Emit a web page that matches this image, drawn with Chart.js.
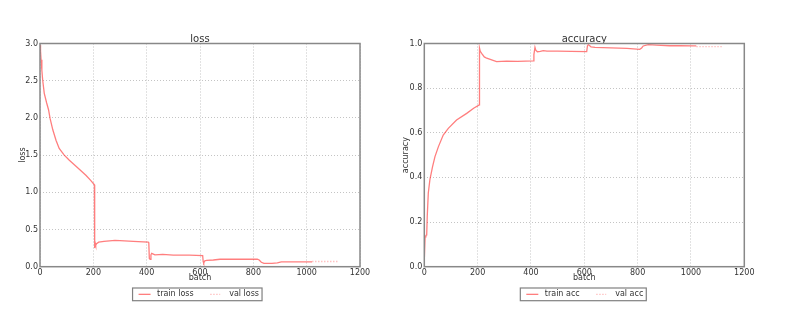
<!DOCTYPE html>
<html>
<head>
<meta charset="utf-8">
<script src="https://cdn.jsdelivr.net/npm/chart.js@4.4.1/dist/chart.umd.min.js"></script>
<style>
  html, body { margin: 0; padding: 0; background: #ffffff; }
  body { width: 800px; height: 321px; position: relative; overflow: hidden; }
  .box { position: absolute; top: 0; width: 400px; height: 321px; }
  #c1box { left: 0; }
  #c2box { left: 400px; }
</style>
</head>
<body>
<div class="box" id="c1box"><canvas id="c1" width="400" height="321"></canvas></div>
<div class="box" id="c2box"><canvas id="c2" width="400" height="321"></canvas></div>
<script>
// ---- data ----
const xTicks = [0, 200, 400, 600, 800, 1000, 1200];
const lossTicks = [0, 0.5, 1.0, 1.5, 2.0, 2.5, 3.0];
const accTicks = [0, 0.2, 0.4, 0.6, 0.8, 1.0];

const lossBatch = [0, 2, 4, 7, 10, 16, 25, 32, 38, 48, 60, 72, 91, 110, 135, 172, 190, 204,
  205, 207, 209, 212, 220, 240, 281, 300, 350, 406, 408,
  410, 413, 416, 419, 425, 431, 460, 500, 560, 610,
  612, 614, 618, 625, 650, 675, 720, 780, 815, 822, 830, 840, 870, 890, 905, 940, 980, 1020];
const lossValue = [2.98, 2.9, 2.78, 2.64, 2.51, 2.33, 2.20, 2.11, 1.99, 1.84, 1.70, 1.59, 1.50, 1.43, 1.35, 1.23, 1.16, 1.10,
  0.25, 0.32, 0.29, 0.31, 0.33, 0.34, 0.355, 0.35, 0.34, 0.33, 0.32,
  0.11, 0.10, 0.16, 0.18, 0.17, 0.16, 0.165, 0.155, 0.155, 0.15,
  0.07, 0.05, 0.08, 0.085, 0.09, 0.10, 0.10, 0.10, 0.10, 0.09, 0.06, 0.045, 0.045, 0.05, 0.065, 0.065, 0.065, 0.065];
const valLossBatch = [1020, 1060, 1120];
const valLossValue = [0.07, 0.07, 0.07];

const accBatch = [0, 3, 6, 9, 11, 15, 21, 31, 40, 53, 71, 90, 121, 159, 185, 206,
  207, 210, 215, 225, 234, 250, 271, 290, 309, 350, 409,
  411, 415, 418, 424, 435, 446, 460, 500, 550, 609,
  612, 615, 625, 640, 700, 760, 808, 815, 821, 840, 871, 920, 960, 1009, 1020];
const accValue = [0.03, 0.134, 0.14, 0.142, 0.224, 0.33, 0.39, 0.448, 0.493, 0.538, 0.59, 0.62, 0.657, 0.687, 0.71, 0.725,
  0.98, 0.965, 0.956, 0.94, 0.934, 0.928, 0.919, 0.92, 0.921, 0.92, 0.922,
  0.95, 0.983, 0.97, 0.963, 0.965, 0.968, 0.966, 0.966, 0.965, 0.964,
  0.99, 0.995, 0.985, 0.983, 0.98, 0.978, 0.974, 0.98, 0.989, 0.995, 0.993, 0.99, 0.99, 0.989, 0.989];
const valAccBatch = [1020, 1060, 1120];
const valAccValue = [0.986, 0.986, 0.986];

// ---- styling ----
const FONT = "'DejaVu Sans', sans-serif";
const TEXT = '#333333';
const TRAIN_COLOR = 'rgba(255, 40, 40, 0.6)';
const VAL_COLOR = 'rgba(255, 120, 120, 0.45)';

function pts(xs, ys) { return xs.map((x, i) => ({ x: x, y: ys[i] })); }

function framePlugin() {
  return {
    id: 'frame',
    afterDraw(chart) {
      const a = chart.chartArea, ctx = chart.ctx;
      ctx.save();
      ctx.strokeStyle = '#888888';
      ctx.lineWidth = 1.5;
      ctx.strokeRect(a.left, a.top, a.right - a.left, a.bottom - a.top);
      ctx.restore();
    }
  };
}

function legendPlugin(labels, offsetX) {
  return {
    id: 'boxLegend',
    afterDraw(chart) {
      const a = chart.chartArea, ctx = chart.ctx;
      ctx.save();
      ctx.font = '8px ' + FONT;
      const w1 = ctx.measureText(labels[0]).width;
      const w2 = ctx.measureText(labels[1]).width;
      const padL = 6, line = 12, gap = 6.5, mid = 16.5, line2 = 10, gap2 = 9, padR = 3;
      const total = padL + line + gap + w1 + mid + line2 + gap2 + w2 + padR;
      const cx = (a.left + a.right) / 2 + offsetX;
      const left = cx - total / 2;
      const top = 288, h = 12.7;
      ctx.fillStyle = '#ffffff';
      ctx.fillRect(left, top, total, h);
      ctx.strokeStyle = '#808080';
      ctx.lineWidth = 1.2;
      ctx.strokeRect(left, top, total, h);
      const cy = top + h / 2;
      let x = left + padL;
      ctx.strokeStyle = TRAIN_COLOR; ctx.lineWidth = 1.3;
      ctx.beginPath(); ctx.moveTo(x, cy); ctx.lineTo(x + line, cy); ctx.stroke();
      x += line + gap;
      ctx.fillStyle = TEXT; ctx.textBaseline = 'middle'; ctx.textAlign = 'left';
      ctx.fillText(labels[0], x, cy);
      x += w1 + mid;
      ctx.strokeStyle = VAL_COLOR; ctx.setLineDash([1.5, 1.5]);
      ctx.beginPath(); ctx.moveTo(x, cy); ctx.lineTo(x + line2, cy); ctx.stroke();
      ctx.setLineDash([]);
      x += line2 + gap2;
      ctx.fillText(labels[1], x, cy);
      ctx.restore();
    }
  };
}

function makeChart(id, cfg) {
  return new Chart(document.getElementById(id), {
    type: 'line',
    data: {
      datasets: [
        { label: cfg.labels[0], data: pts(cfg.trainX, cfg.trainY), borderColor: TRAIN_COLOR, borderWidth: 1.3,
          pointRadius: 0, tension: 0, fill: false },
        { label: cfg.labels[1], data: pts(cfg.valX, cfg.valY), borderColor: VAL_COLOR, borderWidth: 1.3,
          borderDash: [1.5, 1.5], pointRadius: 0, tension: 0, fill: false }
      ]
    },
    options: {
      responsive: false,
      animation: false,
      devicePixelRatio: 1,
      layout: { padding: cfg.padding },
      plugins: {
        legend: { display: false },
        tooltip: { enabled: false },
        title: { display: true, fullSize: false, text: cfg.title, color: TEXT, padding: 0,
          font: { family: FONT, size: 10, weight: 'normal', lineHeight: 0.9 } }
      },
      scales: {
        x: {
          type: 'linear', min: 0, max: 1200,
          afterBuildTicks: (s) => { s.ticks = xTicks.map(v => ({ value: v })); },
          afterFit: (s) => { s.height = 16.5; },
          ticks: { color: TEXT, padding: 1, font: { family: FONT, size: 8 }, maxRotation: 0,
            callback: (v) => String(v) },
          grid: { color: '#c4c4c4', lineWidth: 1, drawTicks: false },
          border: { display: false, dash: [1, 2] },
          title: { display: true, text: 'batch', color: TEXT, padding: 0, font: { family: FONT, size: 8 } }
        },
        y: {
          type: 'linear', min: 0, max: cfg.yMax,
          afterBuildTicks: (s) => { s.ticks = cfg.yTicks.map(v => ({ value: v })); },
          afterFit: (s) => { s.width = cfg.yWidth; },
          ticks: { color: TEXT, padding: 2, font: { family: FONT, size: 8 },
            callback: (v) => Number(v).toFixed(1) },
          grid: { color: '#c4c4c4', lineWidth: 1, drawTicks: false },
          border: { display: false, dash: [1, 2] },
          title: { display: true, text: cfg.yTitle, color: TEXT, padding: { top: cfg.yTitlePad, bottom: 0 },
            font: { family: FONT, size: 8 } }
        }
      }
    },
    plugins: [framePlugin(), legendPlugin(cfg.labels, cfg.legendOffset)]
  });
}

makeChart('c1', {
  title: 'loss', labels: ['train loss', 'val loss'],
  trainX: lossBatch, trainY: lossValue, valX: valLossBatch, valY: valLossValue,
  yMax: 3, yTicks: lossTicks, yTitle: 'loss', yWidth: 40, yTitlePad: 18,
  padding: { left: 0, right: 40, top: 34.5, bottom: 37.8 }, legendOffset: -2.7
});
makeChart('c2', {
  title: 'accuracy', labels: ['train acc', 'val acc'],
  trainX: accBatch, trainY: accValue, valX: valAccBatch, valY: valAccValue,
  yMax: 1, yTicks: accTicks, yTitle: 'accuracy', yWidth: 24.3, yTitlePad: 1.2,
  padding: { left: 0, right: 55.7, top: 34.5, bottom: 37.8 }, legendOffset: -1
});
</script>
</body>
</html>
